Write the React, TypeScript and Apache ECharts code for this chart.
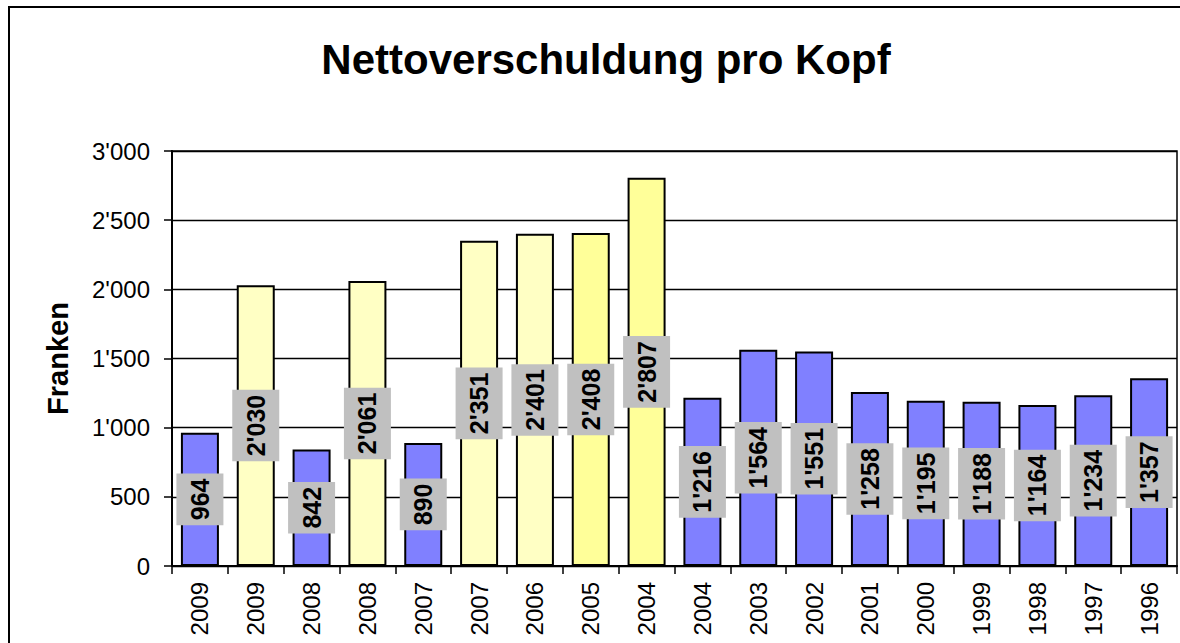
import React, { useEffect, useRef } from "react";
import * as echarts from "echarts";

const categories = ["2009", "2009", "2008", "2008", "2007", "2007", "2006", "2005", "2004", "2004", "2003", "2002", "2001", "2000", "1999", "1998", "1997", "1996"];
const values = [964, 2030, 842, 2061, 890, 2351, 2401, 2408, 2807, 1216, 1564, 1551, 1258, 1195, 1188, 1164, 1234, 1357];
const kinds = ["A", "B", "A", "B", "A", "B", "B", "C", "C", "A", "A", "A", "A", "A", "A", "A", "A", "A"];
const yTicks = [0, 500, 1000, 1500, 2000, 2500, 3000];
const titleText = "Nettoverschuldung pro Kopf";
const yName = "Franken";

const kindColor: Record<string, string> = { A: "#8080FF", B: "#FFFFC4", C: "#FFFF99" };
const FONT = "'Liberation Sans', Arial, sans-serif";

function fmt(v: number): string {
  if (v >= 1000) {
    return Math.floor(v / 1000) + "'" + String(v % 1000).padStart(3, "0");
  }
  return String(v);
}

export default function App() {
  const ref = useRef<HTMLDivElement>(null);
  useEffect(() => {
    if (!ref.current) return;
    const chart = echarts.init(ref.current, undefined, { renderer: "svg" });
    chart.setOption({
      animation: false,
      backgroundColor: "#fff",
      title: {
        text: titleText,
        left: 601,
        top: 33,
        textAlign: "center",
        textStyle: { fontFamily: FONT, fontSize: 42, fontWeight: "bold", color: "#000" },
      },
      graphic: [
        {
          type: "rect",
          shape: { x: 9, y: 7, width: 1250, height: 800 },
          style: { fill: "none", stroke: "#000", lineWidth: 2 },
          silent: true,
          z: 100,
        },
      ],
      grid: {
        left: 172,
        right: 3,
        top: 151,
        bottom: 77,
        show: true,
        borderColor: "#000",
        borderWidth: 1.5,
        backgroundColor: "transparent",
      },
      xAxis: {
        type: "category",
        data: categories,
        axisLine: { lineStyle: { color: "#000", width: 2 } },
        axisTick: { show: true, length: 8, lineStyle: { color: "#000", width: 1.5 } },
        axisLabel: {
          rotate: 90,
          interval: 0,
          margin: 16,
          fontFamily: FONT,
          fontSize: 24,
          color: "#000",
        },
      },
      yAxis: {
        type: "value",
        min: 0,
        max: yTicks[yTicks.length - 1],
        interval: 500,
        name: yName,
        nameLocation: "middle",
        nameGap: 100,
        nameTextStyle: { fontFamily: FONT, fontSize: 29, fontWeight: "bold", color: "#000" },
        axisLine: { show: true, lineStyle: { color: "#000", width: 2 } },
        axisTick: { show: true, length: 8, lineStyle: { color: "#000", width: 1.5 } },
        axisLabel: {
          margin: 22,
          fontFamily: FONT,
          fontSize: 24,
          color: "#000",
          formatter: (v: number) => fmt(v),
        },
        splitLine: { show: true, lineStyle: { color: "#000", width: 1.3 } },
      },
      series: [
        {
          type: "bar",
          barWidth: 38,
          data: values.map((v, i) => ({
            value: v,
            itemStyle: { color: kindColor[kinds[i]], borderColor: "#000", borderWidth: 2 },
          })),
          label: {
            show: true,
            position: "inside",
            rotate: 90,
            formatter: (p: any) => fmt(p.value),
            backgroundColor: "#C0C0C0",
            padding: [11, 5, 11, 5],
            fontFamily: FONT,
            fontSize: 25,
            lineHeight: 25,
            fontWeight: "bold",
            color: "#000",
          },
        },
      ],
    });
    return () => chart.dispose();
  }, []);
  return (
    <div
      ref={ref}
      style={{ position: "absolute", left: 0, top: 0, width: 1180, height: 643 }}
    />
  );
}
